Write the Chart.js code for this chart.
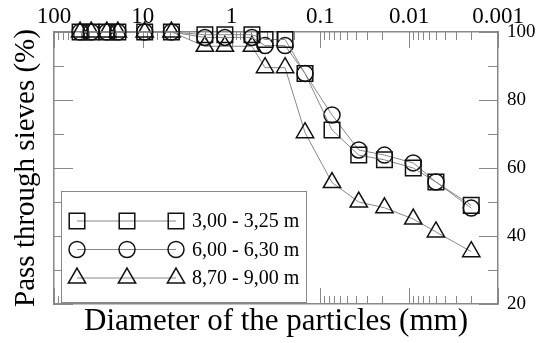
<!DOCTYPE html>
<html><head><meta charset="utf-8">
<script src="https://cdn.jsdelivr.net/npm/chart.js@4/dist/chart.umd.min.js"></script>
<style>html,body{margin:0;padding:0;background:#fff}</style>
</head><body>
<canvas id="c" width="536" height="343"></canvas>
<script>
// ---- data ----
const diameters = [50.8, 38.1, 25.4, 19.1, 9.52, 4.76, 2.0, 1.19, 0.59, 0.42, 0.25, 0.149, 0.074, 0.037, 0.019, 0.009, 0.005, 0.002];
const seriesLabels = ['3,00 - 3,25 m', '6,00 - 6,30 m', '8,70 - 9,00 m'];
const pass1 = [100,100,100,100,100,100, 99.2,99.2,99.2, 97.8,97.8, 87.8, 71.2, 63.8, 62.4, 60.0, 55.9, 49.0];
const pass2 = [100,100,100,100,100,100, 98.4,98.4,98.4, 96.0,96.0, 87.8, 75.6, 65.3, 63.8, 61.5, 55.9, 48.2];
const pass3 = [100,100,100,100,100,100, 95.8,95.8,95.8, 89.5,89.5, 70.4, 55.7, 50.0, 48.3, 45.0, 41.2, 35.4];
const xMajorTicks = [100, 10, 1, 0.1, 0.01, 0.001];
const xMinorFactors = [2, 3, 4, 5, 6, 7, 8, 9];
const yTicks = [20, 30, 40, 50, 60, 70, 80, 90, 100];
const yLabelTicks = [20, 40, 60, 80, 100];
const pointStyles = ['rect', 'circle', 'triangle'];
const pointRadii = [11, 8, 10];

const xTickValues = xMajorTicks.slice();
xMajorTicks.forEach(m => { if (m < 100) xMinorFactors.forEach(f => xTickValues.push(m * f)); });

const serif = 'Liberation Serif';
const axisColor = '#888';
const lineColor = '#888';
const markColor = '#111';

const allSeries = [pass1, pass2, pass3];
const datasets = allSeries.map((vals, i) => ({
  label: seriesLabels[i],
  data: diameters.map((d, j) => ({x: d, y: vals[j]})),
  borderColor: lineColor,
  borderWidth: 1,
  pointStyle: pointStyles[i],
  pointRadius: pointRadii[i],
  pointBorderColor: markColor,
  pointBackgroundColor: 'rgba(0,0,0,0)',
  pointBorderWidth: 1.5,
  fill: false,
  tension: 0,
  clip: false,
  xAxisID: 'x', yAxisID: 'y'
}));

const insideTicks = {
  id: 'insideTicks',
  beforeDatasetsDraw(chart) {
    const ctx = chart.ctx, a = chart.chartArea;
    const xs = chart.scales.x, ys = chart.scales.y;
    ctx.save();
    ctx.strokeStyle = axisColor; ctx.lineWidth = 1;
    ctx.beginPath();
    xTickValues.forEach(v => {
      const px = Math.round(xs.getPixelForValue(v)) + 0.5;
      const len = xMajorTicks.includes(v) ? 16 : 8;
      ctx.moveTo(px, a.top); ctx.lineTo(px, a.top + len);
      ctx.moveTo(px, a.bottom); ctx.lineTo(px, a.bottom - len);
    });
    yTicks.forEach(v => {
      const py = Math.round(ys.getPixelForValue(v)) + 0.5;
      const len = yLabelTicks.includes(v) ? 19 : 10;
      ctx.moveTo(a.left, py); ctx.lineTo(a.left + len, py);
      ctx.moveTo(a.right, py); ctx.lineTo(a.right - len, py);
    });
    ctx.stroke();
    ctx.restore();
  }
};

function drawMarker(ctx, style, r, x, y) {
  ctx.beginPath();
  if (style === 'rect') {
    const s = Math.SQRT1_2 * r;
    ctx.rect(x - s, y - s, 2 * s, 2 * s);
  } else if (style === 'circle') {
    ctx.arc(x, y, r, 0, Math.PI * 2);
  } else {
    let rad = 0;
    ctx.moveTo(x + Math.sin(rad) * r, y - Math.cos(rad) * r);
    rad += Math.PI * 2 / 3;
    ctx.lineTo(x + Math.sin(rad) * r, y - Math.cos(rad) * r);
    rad += Math.PI * 2 / 3;
    ctx.lineTo(x + Math.sin(rad) * r, y - Math.cos(rad) * r);
    ctx.closePath();
  }
  ctx.stroke();
}

const boxLegend = {
  id: 'boxLegend',
  afterDatasetsDraw(chart) {
    const ctx = chart.ctx;
    const L = 61, T = 191, W = 245, H = 111;
    ctx.save();
    ctx.fillStyle = '#fff';
    ctx.fillRect(L, T, W, H);
    ctx.strokeStyle = axisColor; ctx.lineWidth = 1;
    ctx.strokeRect(L + 0.5, T + 0.5, W, H);
    chart.data.datasets.forEach((ds, i) => {
      const y = 221 + i * 28.5;
      ctx.strokeStyle = lineColor; ctx.lineWidth = 1;
      ctx.beginPath(); ctx.moveTo(77, y); ctx.lineTo(176, y); ctx.stroke();
      ctx.strokeStyle = markColor; ctx.lineWidth = 1.5;
      [77, 127, 176].forEach(x => drawMarker(ctx, ds.pointStyle, ds.pointRadius, x, y));
      ctx.fillStyle = '#000';
      ctx.font = '20px "' + serif + '"';
      ctx.textBaseline = 'middle';
      ctx.textAlign = 'left';
      ctx.fillText(ds.label, 192, y + 1);
    });
    ctx.restore();
  }
};

const logAxisBase = {
  type: 'logarithmic', reverse: true, min: 0.001, max: 100,
  grid: {display: false, drawTicks: false},
  border: {display: true, color: axisColor, width: 1.5}
};

new Chart(document.getElementById('c'), {
  type: 'line',
  data: {datasets},
  options: {
    responsive: false, animation: false, devicePixelRatio: 1,
    layout: {padding: 0},
    plugins: {legend: {display: false}, tooltip: {enabled: false}},
    scales: {
      x: Object.assign({}, logAxisBase, {
        position: 'top',
        afterBuildTicks: s => { s.ticks = xTickValues.map(v => ({value: v})); },
        afterFit: s => { s.height = 32; },
        ticks: {
          autoSkip: false, maxRotation: 0, minRotation: 0, padding: 1,
          color: '#000', font: {family: serif, size: 23},
          callback: v => xMajorTicks.includes(v) ? String(v) : ''
        }
      }),
      x2: Object.assign({}, logAxisBase, {
        position: 'bottom',
        afterFit: s => { s.height = 39; },
        ticks: {display: false},
        title: {display: true, text: 'Diameter of the particles (mm)', color: '#000',
                font: {family: serif, size: 31}, padding: {top: 0, bottom: 3}}
      }),
      y: {
        type: 'linear', position: 'left', min: 20, max: 100,
        grid: {display: false, drawTicks: false},
        border: {display: true, color: axisColor, width: 1.5},
        ticks: {display: false},
        afterFit: s => { s.width = 54; },
        title: {display: true, text: 'Pass through sieves (%)', color: '#000',
                font: {family: serif, size: 29}, padding: {top: 9, bottom: 0}}
      },
      y2: {
        type: 'linear', position: 'right', min: 20, max: 100,
        grid: {display: false, drawTicks: false},
        border: {display: true, color: axisColor, width: 1.5},
        afterBuildTicks: s => { s.ticks = yTicks.map(v => ({value: v})); },
        afterFit: s => { s.width = 38; },
        ticks: {
          autoSkip: false, padding: 9, color: '#000', font: {family: serif, size: 19},
          callback: v => yLabelTicks.includes(v) ? String(v) : ''
        }
      }
    }
  },
  plugins: [insideTicks, boxLegend]
});
</script>
</body></html>
